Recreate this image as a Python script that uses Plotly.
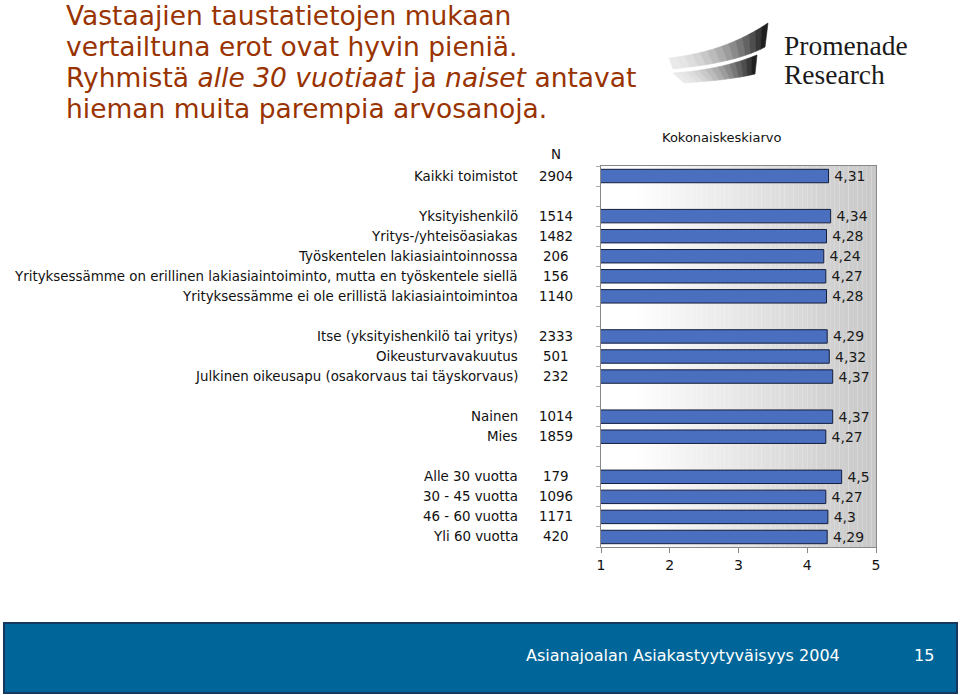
import plotly.graph_objects as go

# ---------------- data ----------------
labels = ["Kaikki toimistot", "",
          "Yksityishenkilö", "Yritys-/yhteisöasiakas", "Työskentelen lakiasiaintoinnossa",
          "Yrityksessämme on erillinen lakiasiaintoiminto, mutta en työskentele siellä",
          "Yrityksessämme ei ole erillistä lakiasiaintoimintoa", "",
          "Itse (yksityishenkilö tai yritys)", "Oikeusturvavakuutus",
          "Julkinen oikeusapu (osakorvaus tai täyskorvaus)", "",
          "Nainen", "Mies", "",
          "Alle 30 vuotta", "30 - 45 vuotta", "46 - 60 vuotta", "Yli 60 vuotta"]
n_values = [2904, None, 1514, 1482, 206, 156, 1140, None, 2333, 501, 232, None,
            1014, 1859, None, 179, 1096, 1171, 420]
means = [4.31, None, 4.34, 4.28, 4.24, 4.27, 4.28, None, 4.29, 4.32, 4.37, None,
         4.37, 4.27, None, 4.5, 4.27, 4.3, 4.29]
x_ticks = [1, 2, 3, 4, 5]

title_lines = ["Vastaajien taustatietojen mukaan",
               "vertailtuna erot ovat hyvin pieniä.",
               "Ryhmistä <i>alle 30 vuotiaat</i> ja <i>naiset</i> antavat",
               "hieman muita parempia arvosanoja."]
series_title = "Kokonaiskeskiarvo"
n_header = "N"
footer_text = "Asianajoalan Asiakastyytyväisyys 2004"
page_no = "15"

# ---------------- layout geometry (page pixels) ----------------
PAGE_W, PAGE_H = 960, 695
PL, PR, PT, PB = 601, 876, 166, 547


def px(xp):
    return (xp - PL) / (PR - PL)


def py(yp):
    return 1 - (yp - PT) / (PB - PT)


FONT = "DejaVu Sans"
rows = list(range(len(labels)))
texts = ["" if v is None else "\u2009" + str(v).replace(".", ",") for v in means]

fig = go.Figure()
fig.add_trace(go.Bar(
    x=means, y=rows, orientation="h",
    marker=dict(color="#4A6FBF", line=dict(color="#151E3D", width=1)),
    text=texts, textposition="outside", cliponaxis=False, constraintext="none",
    textfont=dict(family=FONT, size=14, color="#1a1a1a"),
    hoverinfo="skip", showlegend=False,
))

shapes = []
# background gradient of plot area
nstrip = 60
for i in range(nstrip):
    x0 = 1 + 4 * i / nstrip
    x1 = 1 + 4 * (i + 1) / nstrip
    xm = (x0 + x1) / 2
    f = max(0.0, (xm - 1.5) / 3.5)
    g = int(round(255 - f * 56))
    shapes.append(dict(type="rect", xref="x", yref="paper", x0=x0, x1=x1, y0=0, y1=1,
                       fillcolor=f"rgb({g},{g},{g})", line=dict(width=0), layer="below"))


# logo swooshes
def qpt(p0, c, p2, t):
    return ((1 - t) ** 2 * p0[0] + 2 * (1 - t) * t * c[0] + t ** 2 * p2[0],
            (1 - t) ** 2 * p0[1] + 2 * (1 - t) * t * c[1] + t ** 2 * p2[1])


def blade(top, bot, nseg=14):
    out = []
    for i in range(nseg):
        t0, t1 = i / nseg, (i + 1) / nseg
        a = qpt(*top, t0); b = qpt(*top, t1)
        c = qpt(*bot, t1); d = qpt(*bot, t0)
        pts = [a, b, c, d]
        path = "M " + " L ".join(f"{px(p[0]):.5f},{py(p[1]):.5f}" for p in pts) + " Z"
        tm = (t0 + t1) / 2
        g = int(round(235 - (tm ** 1.6) * 215))
        out.append(dict(type="path", xref="paper", yref="paper", path=path,
                        fillcolor=f"rgb({g},{g},{g})",
                        line=dict(width=0.6, color=f"rgb({g},{g},{g})")))
    return out


shapes += blade(((669, 58), (725, 52), (768, 23)), ((673, 69), (735, 63), (765, 47)))
shapes += blade(((673, 73), (720, 70), (757, 55)), ((684, 83), (730, 80), (755, 74)))

# footer banner
shapes.append(dict(type="rect", xref="paper", yref="paper",
                   x0=px(4), x1=px(957), y0=py(693), y1=py(623),
                   fillcolor="#006699", line=dict(color="#17375E", width=2)))
fig.update_layout(shapes=shapes)

LABEL_SIZE = 13.4
ann = []
for i, lab in enumerate(labels):
    if lab:
        ann.append(dict(text=lab, x=px(520), y=i, xref="paper", yref="y", xanchor="right",
                        yanchor="middle", showarrow=False,
                        font=dict(family=FONT, size=LABEL_SIZE, color="#111")))
    if n_values[i] is not None:
        ann.append(dict(text=str(n_values[i]), x=px(556), y=i, xref="paper", yref="y",
                        xanchor="center", yanchor="middle", showarrow=False,
                        font=dict(family=FONT, size=LABEL_SIZE, color="#111")))
ann.append(dict(text=n_header, x=px(556), y=py(155), xref="paper", yref="paper",
                xanchor="center", yanchor="middle",
                showarrow=False, font=dict(family=FONT, size=LABEL_SIZE, color="#111")))
ann.append(dict(text=series_title, x=px(660), y=py(137), xref="paper", yref="paper",
                xanchor="left", yanchor="middle", showarrow=False,
                font=dict(family=FONT, size=13, color="#111")))
for k, line in enumerate(title_lines):
    ann.append(dict(text=line, x=px(64), y=py(15 + 31.3 * k), xref="paper", yref="paper",
                    xanchor="left", yanchor="middle", showarrow=False,
                    font=dict(family=FONT, size=26.5, color="#993300")))
for word, yy in (("Promenade", 45), ("Research", 75)):
    ann.append(dict(text=word, x=px(782), y=py(yy), xref="paper", yref="paper",
                    xanchor="left", yanchor="middle", showarrow=False,
                    font=dict(family="Liberation Serif", size=27.5, color="#1a1a1a")))
ann.append(dict(text=footer_text, x=px(524), y=py(655), xref="paper", yref="paper",
                xanchor="left", yanchor="middle", showarrow=False,
                font=dict(family=FONT, size=16, color="white")))
ann.append(dict(text=page_no, x=px(924), y=py(655), xref="paper", yref="paper",
                xanchor="center", yanchor="middle", showarrow=False,
                font=dict(family=FONT, size=16, color="white")))

fig.update_layout(
    width=PAGE_W, height=PAGE_H,
    margin=dict(l=PL, r=PAGE_W - PR, t=PT, b=PAGE_H - PB, pad=0),
    paper_bgcolor="white", plot_bgcolor="white",
    bargap=0.33,
    annotations=ann,
    xaxis=dict(range=[1, 5], tickvals=x_ticks, ticktext=[str(v) for v in x_ticks],
               showgrid=False, zeroline=False, showline=True, linecolor="#888",
               mirror=True, ticks="outside", ticklen=5, tickcolor="#888",
               tickfont=dict(family=FONT, size=14, color="#111"), fixedrange=True),
    yaxis=dict(range=[len(labels) - 0.5, -0.5],
               tickvals=[i - 0.5 for i in range(len(labels) + 1)],
               showticklabels=False, showgrid=False, zeroline=False, showline=True,
               linecolor="#888", mirror=True, ticks="outside", ticklen=4, tickcolor="#aaa",
               fixedrange=True),
    font=dict(family=FONT),
)

fig.write_html("out.html", config={"displayModeBar": False},
               post_script="document.body.style.margin='0';document.body.style.overflow='hidden';")
